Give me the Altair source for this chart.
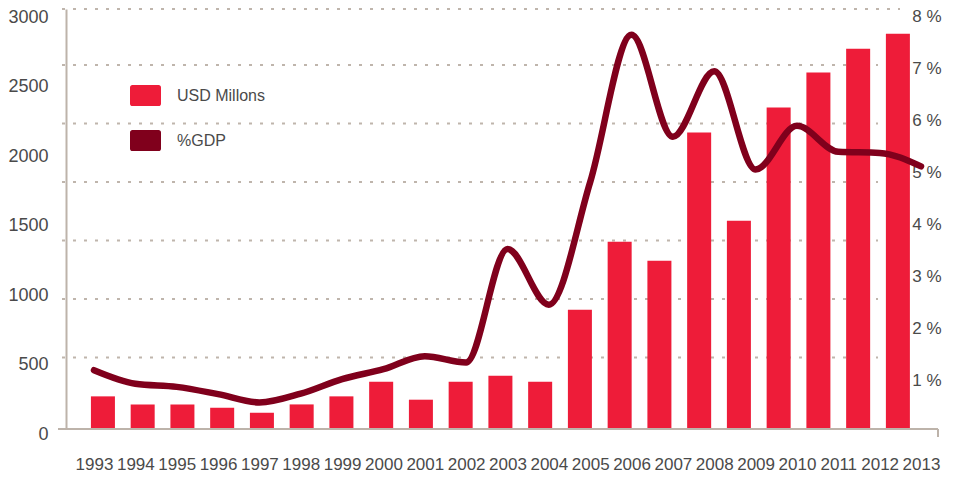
import altair as alt
import pandas as pd

years = list(range(1993, 2014))
usd_millions = [235, 177, 177, 153, 117, 177, 235, 340, 211, 340, 384, 340,
                859, 1349, 1212, 2135, 1500, 2315, 2567, 2738, 2846]
gdp_pct = [1.13, 0.87, 0.81, 0.67, 0.51, 0.68, 0.96, 1.15, 1.40, 1.28, 3.46, 2.39,
           4.75, 7.58, 5.62, 6.88, 4.99, 5.83, 5.33, 5.31, 5.05]
series_names = ["USD Millons", "%GDP"]
series_colors = ["#ee1c39", "#80001c"]
usd_ticks = [0, 500, 1000, 1500, 2000, 2500, 3000]
pct_ticks = [1, 2, 3, 4, 5, 6, 7, 8]
grid_levels = [515, 936, 1357, 1778, 2199, 2620]
grid_top = [3024]

FONT = "Liberation Sans, Arial, sans-serif"
TEXT = "#4a4a4a"
AXIS_C = "#bdb3aa"
GRID_C = "#bfb5ac"

bars_df = pd.DataFrame({"year": years, "usd": usd_millions, "series": series_names[0]})
line_df = pd.DataFrame({"year": years, "gdp": gdp_pct})
grid_df = pd.DataFrame({"level": grid_levels})
gridtop_df = pd.DataFrame({"level": grid_top})
base_df = pd.DataFrame({"level": [0]})

usd_scale = alt.Scale(domain=[0, 3024], nice=False, zero=True)

usd_axis = alt.Axis(values=usd_ticks, format="d", title=None, ticks=False, grid=False,
                    domain=True, domainColor=AXIS_C, domainWidth=2,
                    labelFontSize=18, labelColor=TEXT, labelFont=FONT,
                    labelPadding=18, labelOffset=5, minExtent=58, maxExtent=58,
                    zindex=1)

grid = alt.Chart(grid_df).mark_rule(color=GRID_C, strokeDash=[3, 8], strokeWidth=2).encode(
    y=alt.Y("level:Q", scale=usd_scale, title=None),
    x=alt.value(-4), x2=alt.value(812),
)
gridtop = alt.Chart(gridtop_df).mark_rule(color=GRID_C, strokeDash=[3, 8], strokeWidth=2).encode(
    y=alt.Y("level:Q", scale=usd_scale, title=None),
    x=alt.value(-4), x2=alt.value(834),
)
baseline = alt.Chart(base_df).mark_rule(color=AXIS_C, strokeWidth=2).encode(
    y=alt.Y("level:Q", scale=usd_scale, title=None),
    x=alt.value(-8), x2=alt.value(872),
)
endtick = alt.Chart(base_df).mark_rule(color=AXIS_C, strokeWidth=2).encode(
    y=alt.Y("level:Q", scale=usd_scale, title=None),
    y2=alt.value(428),
    x=alt.value(872),
)

bars = alt.Chart(bars_df).mark_bar().encode(
    x=alt.X("year:O", scale=alt.Scale(paddingInner=0.396, paddingOuter=0.667, align=0.47), axis=None),
    y=alt.Y("usd:Q", scale=usd_scale, axis=usd_axis),
    color=alt.Color("series:N",
                    scale=alt.Scale(domain=series_names, range=series_colors),
                    legend=alt.Legend(
                        title=None, orient="none", legendX=64, legendY=71,
                        symbolType="M-0.85,-0.68H0.85A0.15,0.15 0 0 1 1,-0.53V0.53A0.15,0.15 0 0 1 0.85,0.68H-0.85A0.15,0.15 0 0 1 -1,0.53V-0.53A0.15,0.15 0 0 1 -0.85,-0.68Z",
                        symbolSize=961, symbolStrokeWidth=0, symbolOpacity=1,
                        labelFontSize=16, labelColor=TEXT, labelFont=FONT,
                        labelOffset=16, rowPadding=18, padding=0)),
)

left = alt.layer(grid, gridtop, bars, baseline, endtick)

line = alt.Chart(line_df).mark_line(color=series_colors[1], strokeWidth=6.5,
                                    interpolate="monotone", strokeCap="round").encode(
    x=alt.X("year:Q",
            scale=alt.Scale(domain=[1992.323, 2013.411], nice=False, zero=False),
            axis=alt.Axis(values=years, format="d", labelAngle=0, ticks=False, grid=False,
                          domain=False, title=None, labelFontSize=17, labelColor=TEXT,
                          labelFont=FONT, labelPadding=27, labelFlush=False,
                          labelOverlap=False, orient="bottom")),
    y=alt.Y("gdp:Q",
            scale=alt.Scale(domain=[0, 8.077], nice=False, zero=True),
            axis=alt.Axis(orient="right", values=pct_ticks, labelExpr="datum.value + ' %'",
                          labelAlign="right", labelPadding=3, labelOffset=3.4,
                          ticks=False, domain=False, grid=False, title=None,
                          labelFontSize=17, labelColor=TEXT, labelFont=FONT)),
)

chart = alt.layer(left, line).resolve_scale(
    x="independent", y="independent"
).properties(
    width=872, height=420,
    autosize=alt.AutoSizeParams(type="none"),
    padding={"left": 58, "top": 1, "right": 6, "bottom": 43},
    background="white",
).configure_view(stroke=None)

chart.save("out.html", embed_options={"renderer": "svg", "actions": False})
